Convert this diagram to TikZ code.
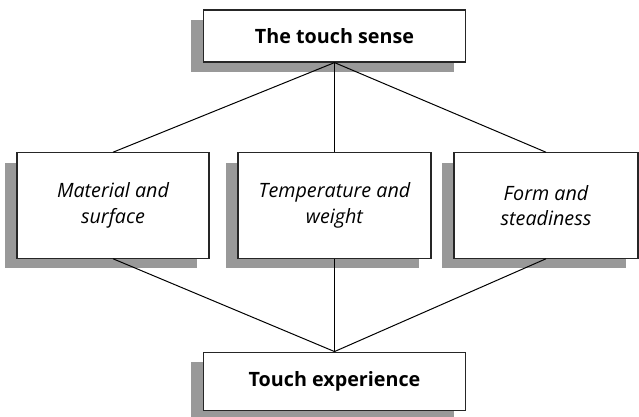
\documentclass[tikz,border=0pt]{standalone}
\usepackage{fontspec}
\setmainfont{Open Sans}
\usetikzlibrary{shadows}

\tikzset{
  senseBox/.style={draw=black!85, line width=0.9pt, fill=white, align=center,
    drop shadow={shadow xshift=-9pt, shadow yshift=-7.5pt, opacity=1, fill=black!40},
    inner sep=0.75pt, font=\fontsize{14.8}{19}\selectfont},
  link/.style={draw=black, line width=0.75pt}
}

\begin{document}
\begin{tikzpicture}[x=0.75pt,y=0.75pt,yscale=-1,xscale=1]
                \useasboundingbox (0,0) rectangle (639,417);

                % Top Box
                \node [senseBox, minimum width=197pt, minimum height=39pt] (sense) at (334.5,36) {\bfseries The touch sense};

                % Middle Boxes
                \node [senseBox, minimum width=144pt, minimum height=79pt] (material) at (113,205.5) {\itshape Material and\\\itshape surface};
                \node [senseBox, minimum width=144.75pt, minimum height=79pt] (temperature) at (334.5,205.5) {\itshape Temperature and\\\itshape weight};
                \node [senseBox, minimum width=138pt, minimum height=79pt] (form) at (546,205.5) {\itshape Form and\\\itshape steadiness};

                % Bottom Box
                \node [senseBox, minimum width=197pt, minimum height=44pt] (experience) at (334.5,381.5) {\bfseries Touch experience};

                % Straight Lines
                \draw [link] (sense.south) -- (material.north);
                \draw [link] (sense.south) -- (temperature.north);
                \draw [link] (sense.south) -- (form.north);
                \draw [link] (material.south) -- (experience.north);
                \draw [link] (temperature.south) -- (experience.north);
                \draw [link] (form.south) -- (experience.north);
\end{tikzpicture}
\end{document}
